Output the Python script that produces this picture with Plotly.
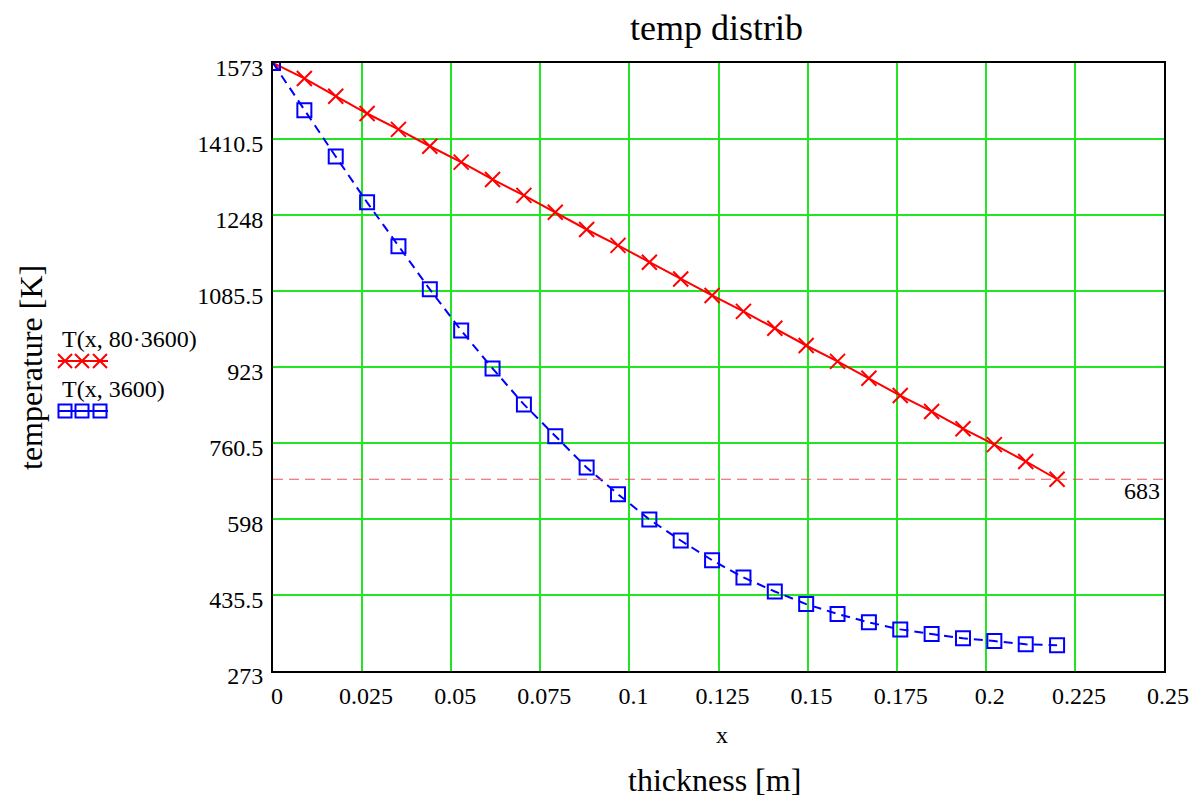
import plotly.graph_objects as go

# ---- data ----
x_vals = [0, 0.0088, 0.0176, 0.0264, 0.0352, 0.044, 0.0528, 0.0616, 0.0704, 0.0792,
          0.088, 0.0968, 0.1056, 0.1144, 0.1232, 0.132, 0.1408, 0.1496, 0.1584, 0.1672,
          0.176, 0.1848, 0.1936, 0.2024, 0.2112, 0.22]
T_80h = [1573, 1540, 1502, 1465, 1431, 1395, 1361, 1324, 1290, 1254,
         1217, 1183, 1147, 1111, 1076, 1042, 1006, 969, 935, 899,
         862, 828, 791, 757, 721, 683]
T_1h = [1573, 1472, 1373, 1275, 1181, 1089, 1001, 920, 843, 775,
        708, 651, 597, 552, 510, 473, 443, 416, 395, 377,
        362, 352, 343, 337, 330, 328]
ref_level = 683
y_ticks = [273, 435.5, 598, 760.5, 923, 1085.5, 1248, 1410.5, 1573]
y_tick_text = ["273", "435.5", "598", "760.5", "923", "1085.5", "1248", "1410.5", "1573"]
x_ticks = [0, 0.025, 0.05, 0.075, 0.1, 0.125, 0.15, 0.175, 0.2, 0.225, 0.25]
x_tick_text = ["0", "0.025", "0.05", "0.075", "0.1", "0.125", "0.15", "0.175", "0.2", "0.225", "0.25"]
series_names = ["T(x, 80·3600)", "T(x, 3600)"]

W, H = 1198, 801
L, R, T, B = 273, 1164, 63, 671  # plot area pixels
FONT = "Liberation Serif, Times New Roman, serif"

fig = go.Figure()

fig.add_trace(go.Scatter(
    x=x_vals, y=T_80h, mode="lines+markers", name=series_names[0],
    line=dict(color="#ff0000", width=2),
    marker=dict(symbol="x-thin", size=15, line=dict(color="#ff0000", width=2)),
    showlegend=False,
))
fig.add_trace(go.Scatter(
    x=x_vals, y=T_1h, mode="lines+markers", name=series_names[1],
    line=dict(color="#0000ff", width=2, dash="9px,6px"),
    marker=dict(symbol="square-open", size=14, color="#0000ff", line=dict(color="#0000ff", width=2)),
    showlegend=False,
))
# reference level 683
fig.add_trace(go.Scatter(
    x=[0, 0.25], y=[ref_level, ref_level], mode="lines",
    line=dict(color="rgba(235,70,70,0.9)", width=1, dash="10px,6px"),
    showlegend=False, hoverinfo="skip",
))

# legend samples on an auxiliary pixel axis
leg_x = [65, 82, 100]
fig.add_trace(go.Scatter(
    x=[58] + leg_x + [108], y=[361] * 5, xaxis="x2", yaxis="y2", mode="lines+markers",
    line=dict(color="#ff0000", width=2),
    marker=dict(symbol="x-thin", size=14, line=dict(color="#ff0000", width=2),
                opacity=[0, 1, 1, 1, 0]),
    showlegend=False, hoverinfo="skip",
))
fig.add_trace(go.Scatter(
    x=[58] + leg_x + [108], y=[411] * 5, xaxis="x2", yaxis="y2", mode="lines+markers",
    line=dict(color="#0000ff", width=2),
    marker=dict(symbol="square-open", size=13, color="#0000ff", line=dict(color="#0000ff", width=2),
                opacity=[0, 1, 1, 1, 0]),
    showlegend=False, hoverinfo="skip",
))

grid_col = "#22e622"
fig.update_layout(
    template="none",
    width=W, height=H,
    margin=dict(l=0, r=0, t=0, b=0, pad=0),
    paper_bgcolor="white", plot_bgcolor="rgba(0,0,0,0)",
    font=dict(family=FONT, color="black", size=24),
    xaxis=dict(
        domain=[L / W, R / W], range=[0, 0.25], automargin=False,
        tickvals=x_ticks, ticktext=x_tick_text, ticks="", ticklabelstandoff=2,
        ticklabelshift=4,
        showgrid=True, gridcolor=grid_col, gridwidth=1.5,
        zeroline=False, showline=True, linecolor="black", linewidth=2, mirror=True,
        tickfont=dict(size=24, family=FONT, color="black"),
    ),
    yaxis=dict(
        domain=[1 - B / H, 1 - T / H], range=[273, 1573], automargin=False,
        tickvals=y_ticks, ticktext=y_tick_text, ticks="", ticklabelstandoff=3,
        ticklabelshift=5,
        showgrid=True, gridcolor=grid_col, gridwidth=1.5,
        zeroline=False, showline=True, linecolor="black", linewidth=2, mirror=True,
        tickfont=dict(size=24, family=FONT, color="black"),
    ),
    xaxis2=dict(domain=[0, 1], range=[0, W], visible=False, showgrid=False, anchor="y2",
                fixedrange=True, automargin=False),
    yaxis2=dict(domain=[0, 1], range=[H, 0], visible=False, showgrid=False, anchor="x2",
                fixedrange=True, automargin=False),
    annotations=[
        dict(text="temp distrib", x=716 / W, y=1 - 28 / H, xref="paper", yref="paper",
             showarrow=False, font=dict(size=36, family=FONT), xanchor="center", yanchor="middle"),
        dict(text="x", x=722 / W, y=1 - 735 / H, xref="paper", yref="paper",
             showarrow=False, font=dict(size=24, family=FONT), xanchor="center", yanchor="middle"),
        dict(text="thickness [m]", x=715 / W, y=1 - 780 / H, xref="paper", yref="paper",
             showarrow=False, font=dict(size=32, family=FONT), xanchor="center", yanchor="middle"),
        dict(text="temperature [K]", x=31 / W, y=1 - 368 / H, xref="paper", yref="paper",
             showarrow=False, textangle=-90, font=dict(size=32, family=FONT),
             xanchor="center", yanchor="middle"),
        dict(text=series_names[0], x=60 / W, y=1 - 339 / H, xref="paper", yref="paper",
             showarrow=False, font=dict(size=24, family=FONT), xanchor="left", yanchor="middle"),
        dict(text=series_names[1], x=60 / W, y=1 - 389 / H, xref="paper", yref="paper",
             showarrow=False, font=dict(size=24, family=FONT), xanchor="left", yanchor="middle"),
        dict(text=str(ref_level), x=0.2438, y=ref_level, xref="x", yref="y",
             showarrow=False, font=dict(size=24, family=FONT), xanchor="center", yanchor="top",
             yshift=3),
    ],
)

fig.write_html(
    "out.html",
    config={"displayModeBar": False},
    post_script="document.body.style.margin='0px';document.body.style.overflow='hidden';",
)
